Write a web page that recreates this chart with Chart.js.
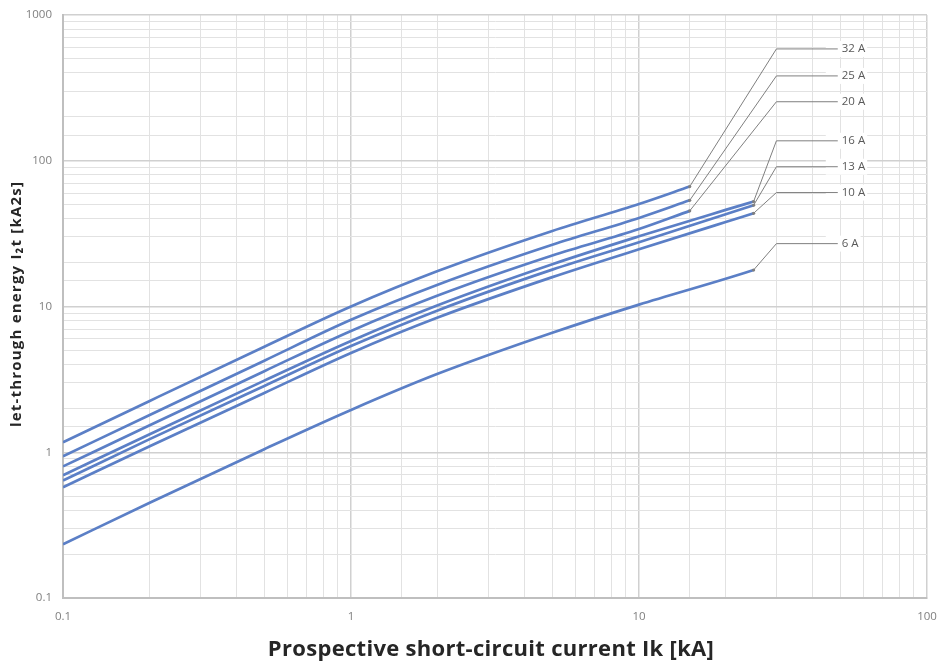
<!DOCTYPE html>
<html>
<head>
<meta charset="utf-8">
<script src="https://cdn.jsdelivr.net/npm/chart.js@4"></script>
<style>
  html, body { margin: 0; padding: 0; background: #fff; }
  #wrap { width: 937px; height: 663px; }
</style>
</head>
<body>
<div id="wrap"><canvas id="chart"></canvas></div>
<script>
// prospective current Ik [kA]
var ikShort = [0.1, 0.2, 0.5, 1, 2, 5, 10, 15];
var ikLong = [0.1, 0.2, 0.5, 1, 2, 5, 10, 20, 25];

// let-through energy I2t [kA2s]
var i2t32A = [1.17, 2.25, 5.3, 10, 17.5, 33, 50.5, 66.5];
var i2t25A = [0.94, 1.8, 4.25, 8.1, 14.1, 26.5, 40.5, 53.5];
var i2t20A = [0.80, 1.53, 3.6, 6.8, 11.9, 22.4, 34, 45.3];
var i2t16A = [0.695, 1.33, 3.1, 5.8, 10.2, 19.5, 30.3, 46, 52.5];
var i2t13A = [0.64, 1.23, 2.85, 5.35, 9.4, 17.9, 27.6, 43, 49.5];
var i2t10A = [0.575, 1.1, 2.55, 4.8, 8.4, 15.9, 24.7, 38, 43.6];
var i2t6A = [0.234, 0.45, 1.05, 1.95, 3.45, 6.6, 10.3, 15.5, 17.8];

var seriesNames = ['32 A', '25 A', '20 A', '16 A', '13 A', '10 A', '6 A'];
// where each name label sits (kA2s), leader elbow at 30 kA, label at ~49 kA
var labelY = [585, 382, 254, 137, 91, 60.5, 27];
var labelElbowX = 30;
var labelTextX = 49;

var xTickLabels = [0.1, 1, 10, 100];
var yTickLabels = [0.1, 1, 10, 100, 1000];

var xTitle = 'Prospective short-circuit current Ik [kA]';
var yTitle = 'let-through energy I\u2082t [kA2s]';

var lineColor = '#5b7fc6';

function pairs(xs, ys) {
	return ys.map(function(v, i){ return {x: xs[i], y: v}; });
}

var seriesData = [
	pairs(ikShort, i2t32A),
	pairs(ikShort, i2t25A),
	pairs(ikShort, i2t20A),
	pairs(ikLong, i2t16A),
	pairs(ikLong, i2t13A),
	pairs(ikLong, i2t10A),
	pairs(ikLong, i2t6A)
];

var datasets = seriesData.map(function(d, i){
	return {
		label: seriesNames[i],
		data: d,
		borderColor: lineColor,
		borderWidth: 2.7,
		pointRadius: 0,
		fill: false,
		cubicInterpolationMode: 'monotone'
	};
});

function isDecade(v) {
	var l = Math.log10(v);
	return Math.abs(l - Math.round(l)) < 1e-6;
}

// leader lines, name labels and the two axis titles
var leaderPlugin = {
	id: 'leaders',
	afterDatasetsDraw: function(chart) {
		var ctx = chart.ctx;
		var xs = chart.scales.x, ys = chart.scales.y;
		ctx.save();
		ctx.font = '11.5px "Open Sans", sans-serif';
		ctx.textBaseline = 'middle';
		seriesData.forEach(function(d, i){
			var end = d[d.length - 1];
			var px = xs.getPixelForValue(end.x), py = ys.getPixelForValue(end.y);
			var ex = xs.getPixelForValue(labelElbowX), ey = ys.getPixelForValue(labelY[i]);
			var tx = xs.getPixelForValue(labelTextX);
			var w = ctx.measureText(seriesNames[i]).width;
			ctx.fillStyle = '#fff';
			ctx.fillRect(tx - 12, ey - 8, w + 18, 16);
			ctx.strokeStyle = '#7f7f7f';
			ctx.lineWidth = 1;
			ctx.beginPath();
			ctx.moveTo(px, py);
			ctx.lineTo(ex, ey);
			ctx.lineTo(tx, ey);
			ctx.stroke();
			ctx.fillStyle = '#7f7f7f';
			ctx.beginPath();
			ctx.arc(px, py, 1.6, 0, Math.PI * 2);
			ctx.fill();
			ctx.fillStyle = '#595959';
			ctx.fillText(seriesNames[i], tx + 4, ey);
		});
		ctx.restore();
	},
	afterDraw: function(chart) {
		var ctx = chart.ctx;
		var area = chart.chartArea;
		ctx.save();
		ctx.fillStyle = '#262626';
		ctx.textAlign = 'center';
		ctx.textBaseline = 'middle';
		ctx.letterSpacing = '0.3px';
		ctx.font = 'bold 22px "Open Sans", sans-serif';
		ctx.fillText(xTitle, (area.left + area.right) / 2 - 4, 650);
		ctx.letterSpacing = '1.2px';
		ctx.font = 'bold 15px "Open Sans", sans-serif';
		ctx.translate(17, 304);
		ctx.rotate(-Math.PI / 2);
		ctx.fillText(yTitle, 0, 0);
		ctx.restore();
	}
};

new Chart(document.getElementById('chart'), {
	type: 'line',
	data: { datasets: datasets },
	plugins: [leaderPlugin],
	options: {
		responsive: true,
		maintainAspectRatio: false,
		animation: false,
		layout: { padding: { top: 15, right: 1, left: 0, bottom: 0 } },
		plugins: { legend: { display: false }, tooltip: { enabled: false } },
		scales: {
			x: {
				type: 'logarithmic',
				min: 0.1,
				max: 100,
				afterFit: function(s){ s.height = 65; s.paddingLeft = 0; s.paddingRight = 10; },
				border: { color: '#bfbfbf', width: 2 },
				grid: {
					drawTicks: false,
					color: function(c){ return c.tick && isDecade(c.tick.value) ? '#d0d0d0' : '#e2e2e2'; },
					lineWidth: function(c){ return c.tick && isDecade(c.tick.value) ? 1.5 : 1; }
				},
				ticks: {
					padding: 12,
					color: '#7f7f7f',
					font: { family: '"Open Sans", sans-serif', size: 11.5 },
					autoSkip: false,
					maxRotation: 0,
					callback: function(v){ return xTickLabels.indexOf(v) >= 0 ? String(v) : ''; }
				}
			},
			y: {
				type: 'logarithmic',
				min: 0.1,
				max: 1000,
				afterFit: function(s){ s.width = 63; s.paddingTop = 0; s.paddingBottom = 0; },
				border: { color: '#bfbfbf', width: 2 },
				grid: {
					drawTicks: false,
					color: function(c){ return c.tick && isDecade(c.tick.value) ? '#d0d0d0' : '#e2e2e2'; },
					lineWidth: function(c){ return c.tick && isDecade(c.tick.value) ? 1.5 : 1; }
				},
				ticks: {
					padding: 11,
					color: '#7f7f7f',
					font: { family: '"Open Sans", sans-serif', size: 11.5 },
					autoSkip: false,
					callback: function(v){ return yTickLabels.indexOf(v) >= 0 ? String(v) : ''; }
				}
			}
		}
	}
});
</script>
</body>
</html>
